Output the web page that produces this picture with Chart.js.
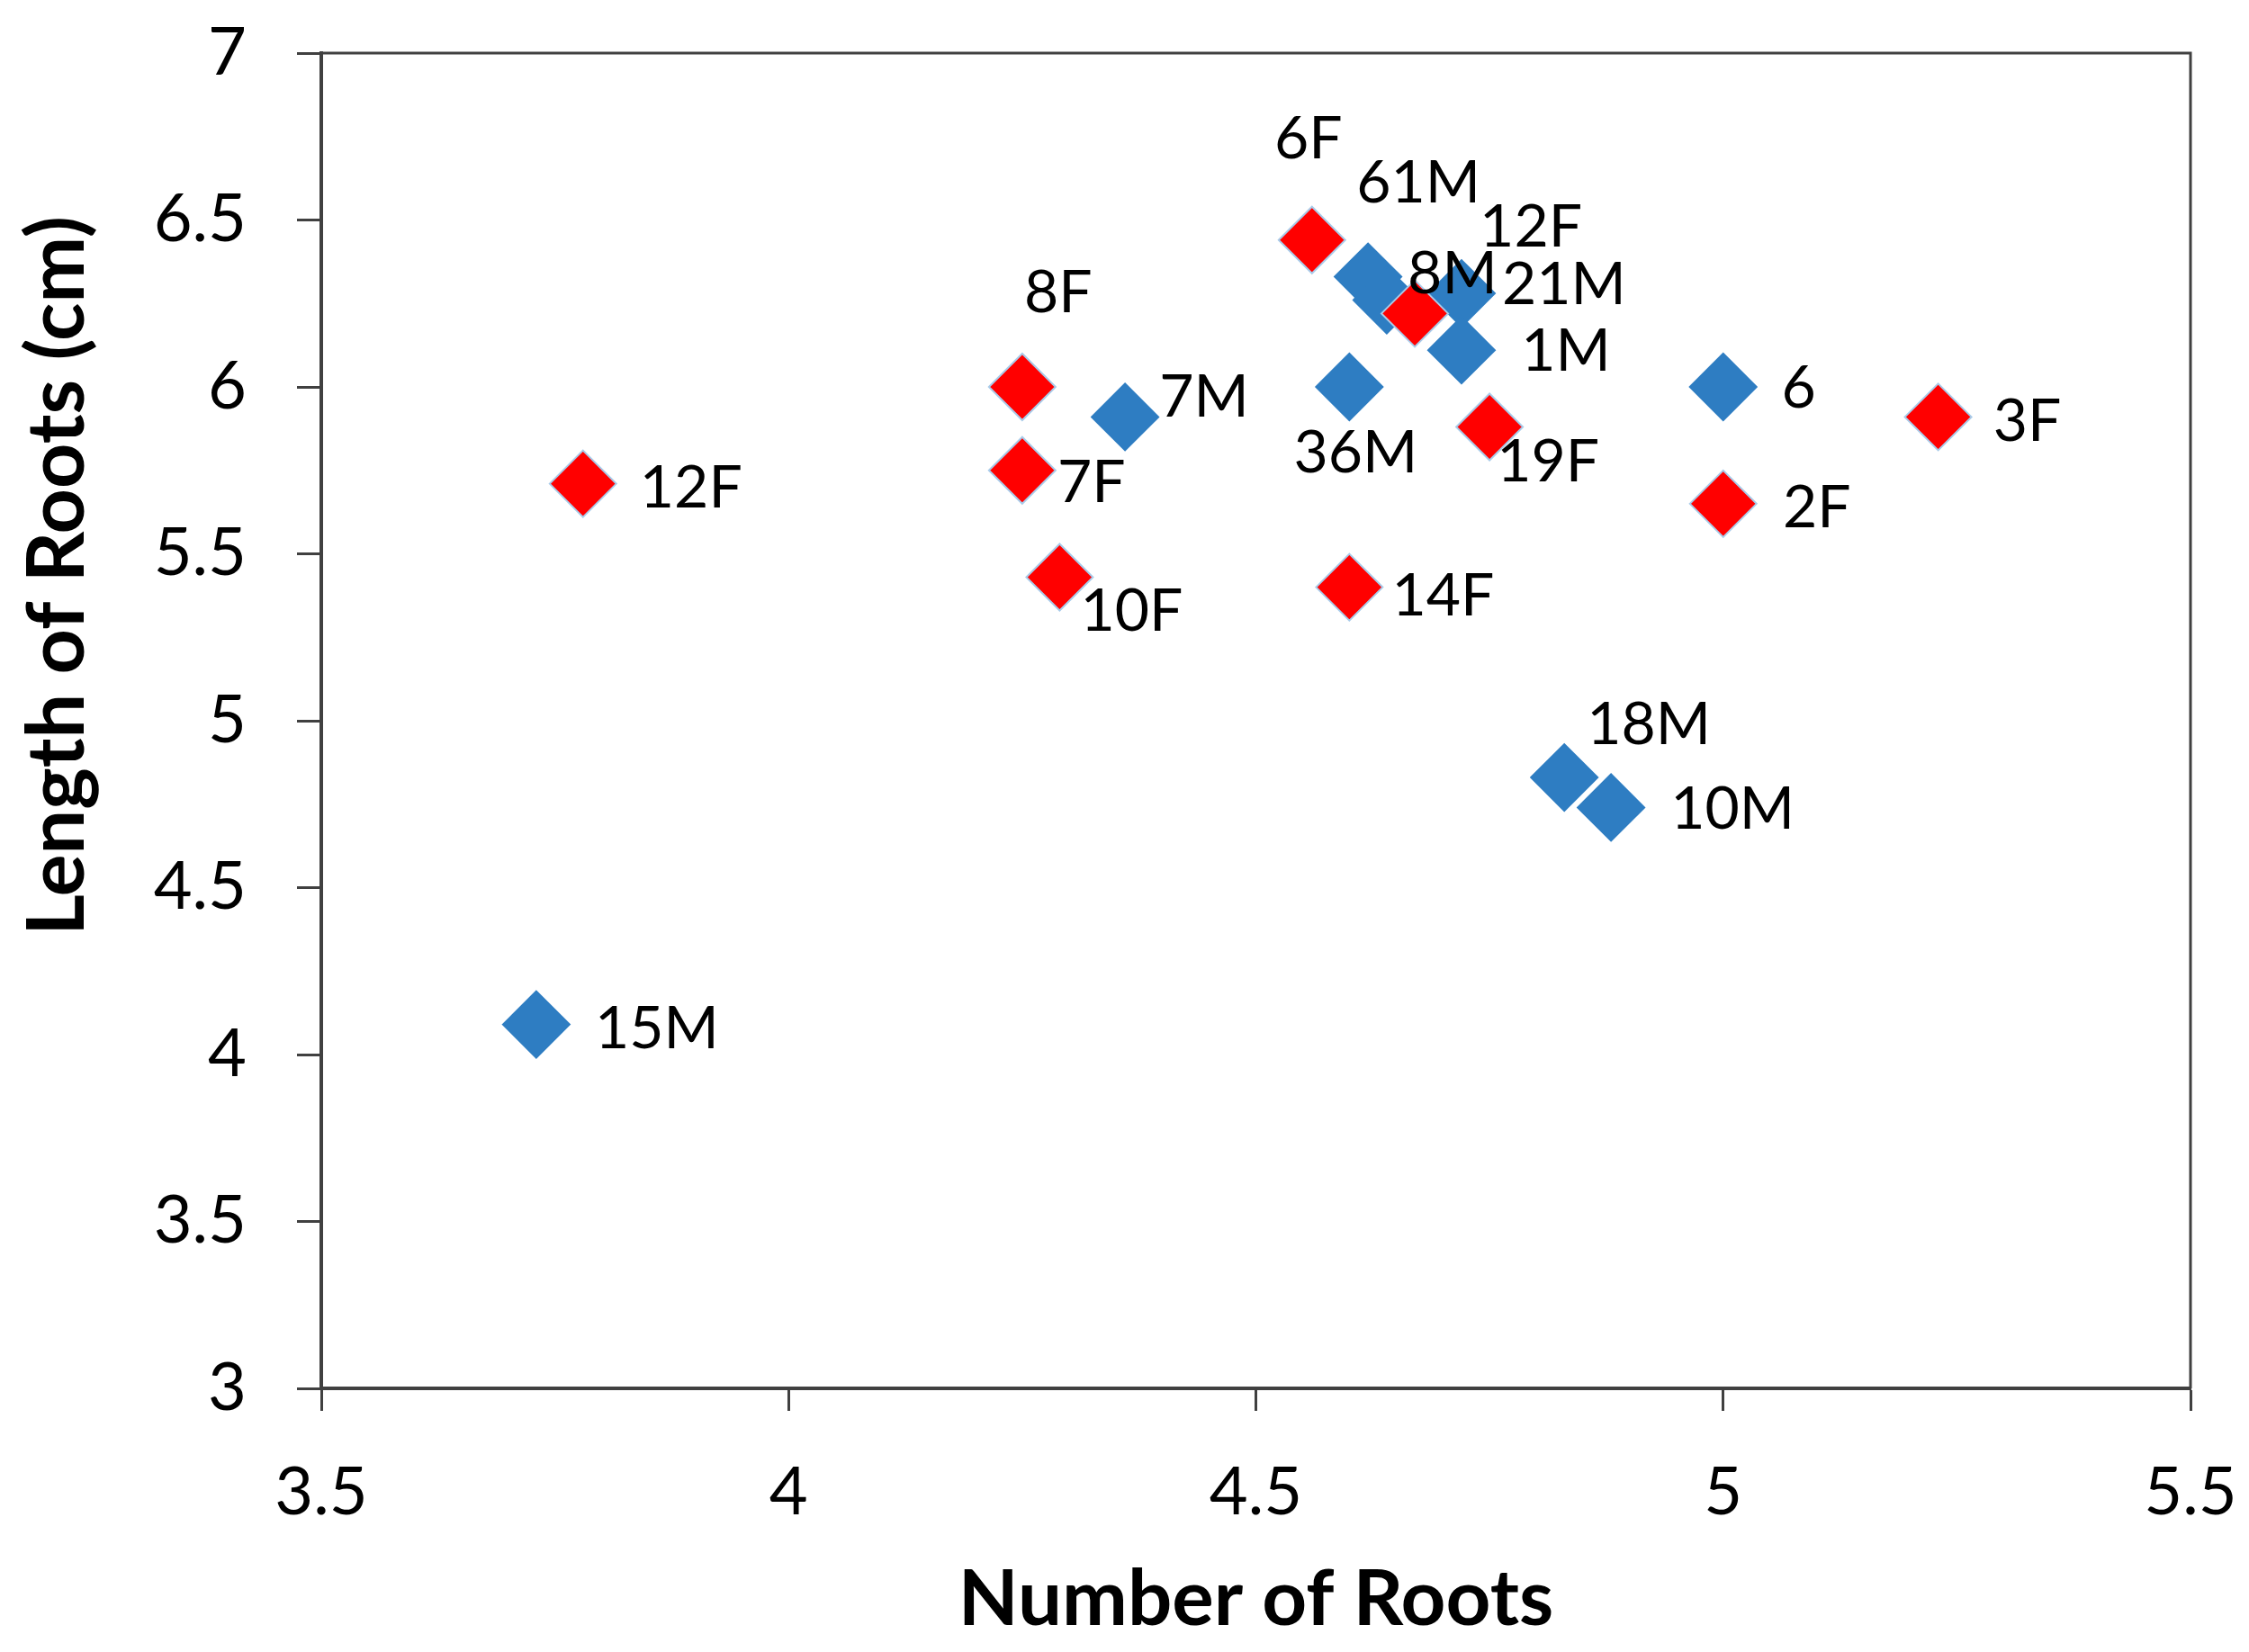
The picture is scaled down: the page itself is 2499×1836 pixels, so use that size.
<!DOCTYPE html>
<html>
<head>
<meta charset="utf-8">
<script src="https://cdn.jsdelivr.net/npm/chart.js@4.4.0/dist/chart.umd.min.js"></script>
<style>
  html, body { margin: 0; padding: 0; background: #ffffff; }
  #wrap { width: 2499px; height: 1836px; position: relative; }
</style>
</head>
<body>
<div id="wrap"><canvas id="c" width="2499" height="1836"></canvas></div>
<script>
// ---- data ----
const maleLabels = ['15M', '7M', '36M', '61M', '8M', '21M', '1M', '18M', '10M', '6'];
const maleRoots  = [3.73, 4.36, 4.60, 4.62, 4.64, 4.72, 4.72, 4.83, 4.88, 5.00];
const maleLength = [4.09, 5.91, 6.00, 6.33, 6.26, 6.28, 6.11, 4.83, 4.74, 6.00];

const femaleLabels = ['12F', '8F', '7F', '10F', '6F', '12F', '14F', '19F', '2F', '3F'];
const femaleRoots  = [3.78, 4.25, 4.25, 4.29, 4.56, 4.67, 4.60, 4.75, 5.00, 5.23];
const femaleLength = [5.71, 6.00, 5.75, 5.43, 6.44, 6.22, 5.40, 5.88, 5.65, 5.91];

const xTickLabels = ['3.5', '4', '4.5', '5', '5.5'];
const yTickLabels = ['3', '3.5', '4', '4.5', '5', '5.5', '6', '6.5', '7'];

const xTitle = 'Number of Roots';
const yTitle = 'Length of Roots (cm)';

// label placement offsets (pixels, relative to each marker)
const maleLabelOffsets = [[134,5],[88,-22],[7,74],[56,-104],[73,-29],[114,-9],[116,2],[94,-58],[135,2],[84,2]];
const femaleLabelOffsets = [[120,5],[40,-104],[77,14],[80,38],[-4,-112],[129,-96],[104,10],[65,39],[104,5],[99,5]];

// ---- build ----
const toPoints = (xs, ys) => xs.map((x, i) => ({ x: x, y: ys[i] }));
const FONT = 'Lato, "Open Sans", "DejaVu Sans", sans-serif';
const AXIS = '#404040';

const pointLabelPlugin = {
  id: 'pointLabels',
  afterDatasetsDraw(chart) {
    const ctx = chart.ctx;
    ctx.save();
    ctx.font = '66px ' + FONT;
    ctx.fillStyle = '#000000';
    ctx.textAlign = 'center';
    ctx.textBaseline = 'middle';
    chart.data.datasets.forEach((ds, di) => {
      const meta = chart.getDatasetMeta(di);
      meta.data.forEach((pt, i) => {
        const off = ds.labelOffsets[i];
        ctx.fillText(ds.pointNames[i], pt.x + off[0], pt.y + off[1]);
      });
    });
    ctx.restore();
  }
};

const frameAndTitlePlugin = {
  id: 'frameAndTitle',
  beforeDatasetsDraw(chart) {
    const a = chart.chartArea;
    const ctx = chart.ctx;
    ctx.save();
    ctx.strokeStyle = AXIS;
    ctx.lineWidth = 3;
    ctx.beginPath();
    ctx.moveTo(a.left, a.top);
    ctx.lineTo(a.right, a.top);
    ctx.lineTo(a.right, a.bottom);
    ctx.stroke();
    ctx.restore();
  },
  afterDraw(chart) {
    const ctx = chart.ctx;
    ctx.save();
    ctx.translate(65, 640);
    ctx.rotate(-Math.PI / 2);
    ctx.font = 'bold 88px ' + FONT;
    ctx.fillStyle = '#000000';
    ctx.textAlign = 'center';
    ctx.textBaseline = 'middle';
    ctx.fillText(yTitle, 0, 0);
    ctx.restore();
  }
};

new Chart(document.getElementById('c'), {
  type: 'scatter',
  data: {
    datasets: [
      {
        label: 'F',
        data: toPoints(femaleRoots, femaleLength),
        pointNames: femaleLabels,
        labelOffsets: femaleLabelOffsets,
        pointStyle: 'rectRot',
        pointRadius: 37,
        backgroundColor: '#ff0000',
        borderColor: '#a9cbe9',
        borderWidth: 2,
        order: 0
      },
      {
        label: 'M',
        data: toPoints(maleRoots, maleLength),
        pointNames: maleLabels,
        labelOffsets: maleLabelOffsets,
        pointStyle: 'rectRot',
        pointRadius: 37,
        backgroundColor: '#2e7dc2',
        borderColor: '#2e7dc2',
        borderWidth: 2,
        order: 1
      }
    ]
  },
  options: {
    responsive: false,
    animation: false,
    devicePixelRatio: 1,
    events: [],
    layout: { padding: { top: 59, right: 65, left: 0, bottom: 0 } },
    plugins: {
      legend: { display: false },
      tooltip: { enabled: false }
    },
    scales: {
      x: {
        type: 'linear',
        min: 3.5, max: 5.5,
        afterFit(scale) {
          scale.height = 293;
          scale.paddingLeft = 0; scale.paddingRight = 0;
        },
        ticks: {
          stepSize: 0.5,
          padding: 47,
          color: '#000000',
          font: { family: FONT, size: 74 },
          callback: (v, i) => xTickLabels[i]
        },
        grid: { drawOnChartArea: false, drawTicks: true, tickLength: 25, tickWidth: 3, tickColor: AXIS },
        border: { display: true, color: AXIS, width: 4 },
        title: {
          display: true,
          text: xTitle,
          color: '#000000',
          font: { family: FONT, size: 87, weight: 'bold' },
          padding: { top: 0, bottom: 6 }
        }
      },
      y: {
        type: 'linear',
        min: 3, max: 7,
        afterFit(scale) {
          scale.width = 357;
          scale.paddingTop = 0; scale.paddingBottom = 0;
        },
        ticks: {
          stepSize: 0.5,
          padding: 56,
          color: '#000000',
          font: { family: FONT, size: 74 },
          callback: (v, i) => yTickLabels[i]
        },
        grid: { drawOnChartArea: false, drawTicks: true, tickLength: 27, tickWidth: 3, tickColor: AXIS },
        border: { display: true, color: AXIS, width: 4 }
      }
    }
  },
  plugins: [frameAndTitlePlugin, pointLabelPlugin]
});
</script>
</body>
</html>
